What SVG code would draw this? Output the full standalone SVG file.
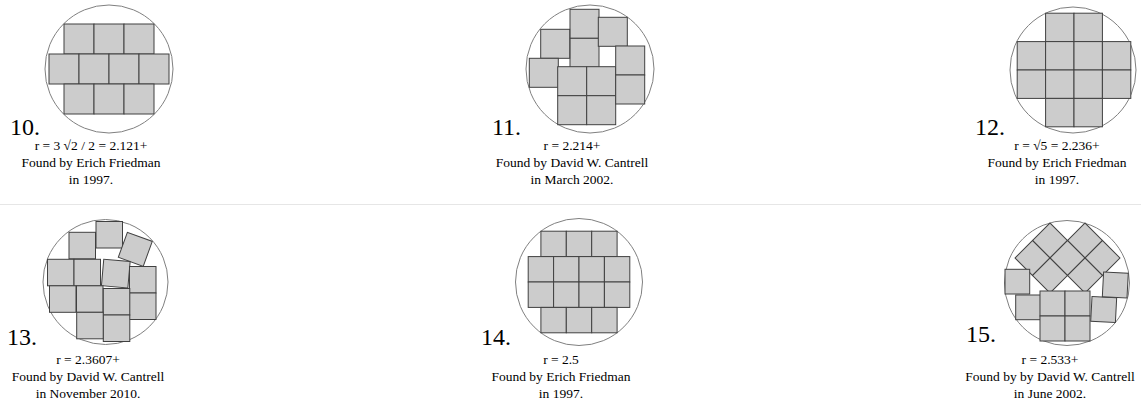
<svg xmlns="http://www.w3.org/2000/svg" width="1141" height="406" viewBox="0 0 1141 406">
<style>
.c{fill:#fff;stroke:#808080;stroke-width:1}
.s{fill:#cccccc;stroke:#404040;stroke-width:1}
.n{font-family:"Liberation Serif",serif;font-size:24px;fill:#000}
.t{font-family:"Liberation Serif",serif;font-size:13.5px;fill:#000;text-anchor:middle}
.sep{stroke:#e6e6e6;stroke-width:1}
</style>
<rect width="1141" height="406" fill="#fff"/>
<line class="sep" x1="0" y1="204.5" x2="1141" y2="204.5"/>

<g id="p10">
<circle class="c" cx="109" cy="69" r="64"/>
<rect class="s" x="64" y="24" width="30" height="30"/><rect class="s" x="94" y="24" width="30" height="30"/><rect class="s" x="124" y="24" width="30" height="30"/>
<rect class="s" x="49" y="54" width="30" height="30"/><rect class="s" x="79" y="54" width="30" height="30"/><rect class="s" x="109" y="54" width="30" height="30"/><rect class="s" x="139" y="54" width="30" height="30"/>
<rect class="s" x="64" y="84" width="30" height="30"/><rect class="s" x="94" y="84" width="30" height="30"/><rect class="s" x="124" y="84" width="30" height="30"/>
<text class="n" x="10" y="135">10.</text>
<text class="t" x="91" y="150">r = 3 √2 / 2 = 2.121+</text>
<text class="t" x="91" y="167">Found by Erich Friedman</text>
<text class="t" x="91" y="184">in 1997.</text>
</g>

<g id="p11">
<circle class="c" cx="590" cy="69" r="64"/>
<rect class="s" x="570" y="9.3" width="29" height="29"/><rect class="s" x="570" y="38.3" width="29" height="29"/>
<rect class="s" x="540.7" y="29.3" width="29" height="29"/>
<rect class="s" x="598.3" y="17.3" width="29" height="29"/>
<rect class="s" x="529.3" y="58.3" width="29" height="29"/>
<rect class="s" x="557.7" y="66.7" width="29" height="29"/><rect class="s" x="586.7" y="66.7" width="29" height="29"/>
<rect class="s" x="557.7" y="95.7" width="29" height="29"/><rect class="s" x="586.7" y="95.7" width="29" height="29"/>
<rect class="s" x="615.7" y="46" width="29" height="29"/><rect class="s" x="615.7" y="75" width="29" height="29"/>
<text class="n" x="492" y="135">11.</text>
<text class="t" x="572" y="150">r = 2.214+</text>
<text class="t" x="572" y="167">Found by David W. Cantrell</text>
<text class="t" x="572" y="184">in March 2002.</text>
</g>

<g id="p12">
<circle class="c" cx="1073" cy="70" r="63"/>
<rect class="s" x="1045.6" y="13.2" width="28.4" height="28.4"/><rect class="s" x="1074" y="13.2" width="28.4" height="28.4"/>
<rect class="s" x="1017.2" y="41.6" width="28.4" height="28.4"/><rect class="s" x="1045.6" y="41.6" width="28.4" height="28.4"/><rect class="s" x="1074" y="41.6" width="28.4" height="28.4"/><rect class="s" x="1102.4" y="41.6" width="28.4" height="28.4"/>
<rect class="s" x="1017.2" y="70" width="28.4" height="28.4"/><rect class="s" x="1045.6" y="70" width="28.4" height="28.4"/><rect class="s" x="1074" y="70" width="28.4" height="28.4"/><rect class="s" x="1102.4" y="70" width="28.4" height="28.4"/>
<rect class="s" x="1045.6" y="98.4" width="28.4" height="28.4"/><rect class="s" x="1074" y="98.4" width="28.4" height="28.4"/>
<text class="n" x="975" y="135">12.</text>
<text class="t" x="1057" y="150">r = √5 = 2.236+</text>
<text class="t" x="1057" y="167">Found by Erich Friedman</text>
<text class="t" x="1057" y="184">in 1997.</text>
</g>

<g id="p13">
<circle class="c" cx="105.5" cy="282" r="62.5"/>
<rect class="s" x="96" y="221.5" width="26.5" height="26.5"/>
<rect class="s" x="69" y="232.3" width="26.5" height="26.5"/>
<rect class="s" x="-13.25" y="-13.25" width="26.5" height="26.5" transform="translate(135.3 249.3) rotate(20)"/>
<rect class="s" x="47.5" y="259.3" width="26.5" height="26.5"/><rect class="s" x="74" y="259.3" width="26.5" height="26.5"/>
<rect class="s" x="-13.25" y="-13.25" width="26.5" height="26.5" transform="translate(115.8 273.6) rotate(5)"/>
<rect class="s" x="129.5" y="266.5" width="26.5" height="26.5"/><rect class="s" x="129.5" y="293" width="26.5" height="26.5"/>
<rect class="s" x="49.5" y="285.8" width="26.5" height="26.5"/><rect class="s" x="76.5" y="285.8" width="26.5" height="26.5"/>
<rect class="s" x="103.3" y="288.5" width="26.5" height="26.5"/><rect class="s" x="103.3" y="315" width="26.5" height="26.5"/>
<rect class="s" x="76.7" y="312.3" width="26.5" height="26.5"/>
<text class="n" x="7" y="345">13.</text>
<text class="t" x="88" y="364">r = 2.3607+</text>
<text class="t" x="88" y="381">Found by David W. Cantrell</text>
<text class="t" x="88" y="398">in November 2010.</text>
</g>

<g id="p14">
<circle class="c" cx="579" cy="282" r="63.5"/>
<rect class="s" x="540.9" y="231.2" width="25.4" height="25.4"/><rect class="s" x="566.3" y="231.2" width="25.4" height="25.4"/><rect class="s" x="591.7" y="231.2" width="25.4" height="25.4"/>
<rect class="s" x="528.2" y="256.6" width="25.4" height="25.4"/><rect class="s" x="553.6" y="256.6" width="25.4" height="25.4"/><rect class="s" x="579" y="256.6" width="25.4" height="25.4"/><rect class="s" x="604.4" y="256.6" width="25.4" height="25.4"/>
<rect class="s" x="528.2" y="282" width="25.4" height="25.4"/><rect class="s" x="553.6" y="282" width="25.4" height="25.4"/><rect class="s" x="579" y="282" width="25.4" height="25.4"/><rect class="s" x="604.4" y="282" width="25.4" height="25.4"/>
<rect class="s" x="540.9" y="307.4" width="25.4" height="25.4"/><rect class="s" x="566.3" y="307.4" width="25.4" height="25.4"/><rect class="s" x="591.7" y="307.4" width="25.4" height="25.4"/>
<text class="n" x="481" y="345">14.</text>
<text class="t" x="561" y="364">r = 2.5</text>
<text class="t" x="561" y="381">Found by Erich Friedman</text>
<text class="t" x="561" y="398">in 1997.</text>
</g>

<g id="p15">
<circle class="c" cx="1067" cy="283" r="62.5"/>
<g transform="translate(1050 240.5) rotate(45)"><rect class="s" x="-12.35" y="-12.35" width="24.7" height="24.7"/></g>
<g transform="translate(1085 240.5) rotate(45)"><rect class="s" x="-12.35" y="-12.35" width="24.7" height="24.7"/></g>
<g transform="translate(1032.5 258) rotate(45)"><rect class="s" x="-12.35" y="-12.35" width="24.7" height="24.7"/></g>
<g transform="translate(1067.5 258) rotate(45)"><rect class="s" x="-12.35" y="-12.35" width="24.7" height="24.7"/></g>
<g transform="translate(1102.5 258) rotate(45)"><rect class="s" x="-12.35" y="-12.35" width="24.7" height="24.7"/></g>
<g transform="translate(1050 275.5) rotate(45)"><rect class="s" x="-12.35" y="-12.35" width="24.7" height="24.7"/></g>
<g transform="translate(1085 275.5) rotate(45)"><rect class="s" x="-12.35" y="-12.35" width="24.7" height="24.7"/></g>
<rect class="s" x="1005" y="269.3" width="24.7" height="24.7"/>
<rect class="s" x="1015.7" y="295" width="24.7" height="24.7"/>
<rect class="s" x="1040" y="291" width="25" height="25"/><rect class="s" x="1065" y="291" width="25" height="25"/>
<rect class="s" x="1040" y="316" width="25" height="25"/><rect class="s" x="1065" y="316" width="25" height="25"/>
<rect class="s" x="-12.35" y="-12.35" width="24.7" height="24.7" transform="translate(1103.7 309.5) rotate(3)"/>
<rect class="s" x="-12.35" y="-12.35" width="24.7" height="24.7" transform="translate(1115.3 285) rotate(3)"/>
<text class="n" x="966" y="342">15.</text>
<text class="t" x="1050" y="364">r = 2.533+</text>
<text class="t" x="1050" y="381">Found by by David W. Cantrell</text>
<text class="t" x="1050" y="398">in June 2002.</text>
</g>
</svg>
